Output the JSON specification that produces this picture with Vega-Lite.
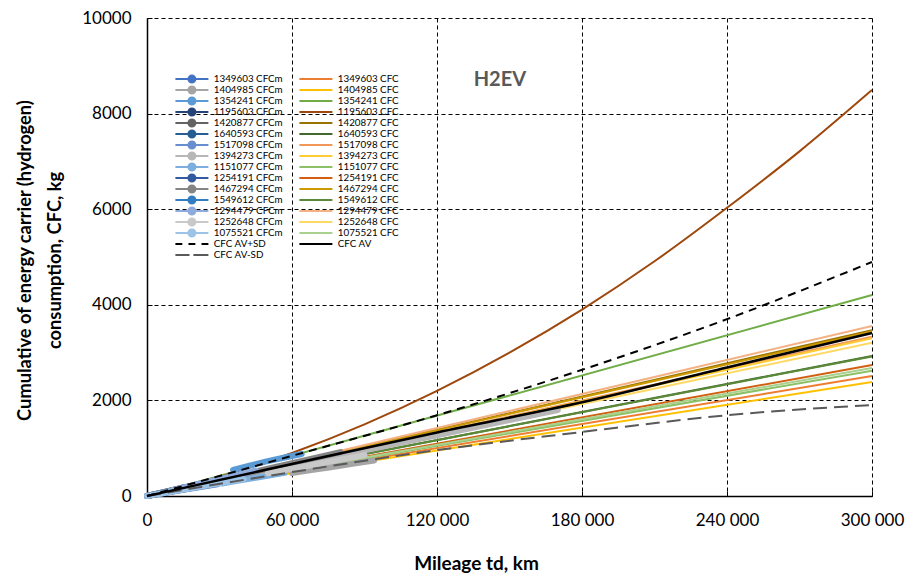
{
  "$schema": "https://vega.github.io/schema/vega-lite/v6.json",
  "width": 725,
  "height": 478,
  "autosize": {"type": "none"},
  "padding": {"left": 147, "top": 18, "right": 37, "bottom": 83},
  "background": "white",
  "config": {"view": {"stroke": null}, "font": "Lato"},
  "datasets": {
    "series": [
      {"s": "1349603 CFCm", "x": 0, "y": 0}, {"s": "1349603 CFCm", "x": 8000, "y": 70}, {"s": "1349603 CFCm", "x": 15000, "y": 128}, {"s": "1349603 CFCm", "x": 22000, "y": 185}, {"s": "1349603 CFCm", "x": 29000, "y": 243},
      {"s": "1404985 CFCm", "x": 60000, "y": 478}, {"s": "1404985 CFCm", "x": 68000, "y": 541}, {"s": "1404985 CFCm", "x": 76000, "y": 603}, {"s": "1404985 CFCm", "x": 85000, "y": 672}, {"s": "1404985 CFCm", "x": 94000, "y": 742},
      {"s": "1354241 CFCm", "x": 35600, "y": 544}, {"s": "1354241 CFCm", "x": 42000, "y": 630}, {"s": "1354241 CFCm", "x": 49000, "y": 718}, {"s": "1354241 CFCm", "x": 56000, "y": 795}, {"s": "1354241 CFCm", "x": 64000, "y": 879},
      {"s": "1195603 CFCm", "x": 0, "y": 0}, {"s": "1195603 CFCm", "x": 5000, "y": 58}, {"s": "1195603 CFCm", "x": 10000, "y": 117}, {"s": "1195603 CFCm", "x": 15000, "y": 178},
      {"s": "1420877 CFCm", "x": 0, "y": 0}, {"s": "1420877 CFCm", "x": 10000, "y": 116}, {"s": "1420877 CFCm", "x": 20000, "y": 230}, {"s": "1420877 CFCm", "x": 30000, "y": 345}, {"s": "1420877 CFCm", "x": 40000, "y": 460},
      {"s": "1640593 CFCm", "x": 0, "y": 0}, {"s": "1640593 CFCm", "x": 9000, "y": 88}, {"s": "1640593 CFCm", "x": 18000, "y": 176}, {"s": "1640593 CFCm", "x": 27000, "y": 262}, {"s": "1640593 CFCm", "x": 35000, "y": 342},
      {"s": "1517098 CFCm", "x": 20000, "y": 222}, {"s": "1517098 CFCm", "x": 28000, "y": 311}, {"s": "1517098 CFCm", "x": 37000, "y": 410}, {"s": "1517098 CFCm", "x": 46000, "y": 511}, {"s": "1517098 CFCm", "x": 55000, "y": 610},
      {"s": "1394273 CFCm", "x": 0, "y": 0}, {"s": "1394273 CFCm", "x": 30000, "y": 318}, {"s": "1394273 CFCm", "x": 60000, "y": 640}, {"s": "1394273 CFCm", "x": 90000, "y": 955}, {"s": "1394273 CFCm", "x": 120000, "y": 1272}, {"s": "1394273 CFCm", "x": 150000, "y": 1590}, {"s": "1394273 CFCm", "x": 170000, "y": 1800},
      {"s": "1151077 CFCm", "x": 31000, "y": 262}, {"s": "1151077 CFCm", "x": 38000, "y": 322}, {"s": "1151077 CFCm", "x": 45000, "y": 382}, {"s": "1151077 CFCm", "x": 51000, "y": 432}, {"s": "1151077 CFCm", "x": 57000, "y": 484},
      {"s": "1254191 CFCm", "x": 0, "y": 0}, {"s": "1254191 CFCm", "x": 8000, "y": 73}, {"s": "1254191 CFCm", "x": 16000, "y": 146}, {"s": "1254191 CFCm", "x": 25000, "y": 228},
      {"s": "1467294 CFCm", "x": 40000, "y": 459}, {"s": "1467294 CFCm", "x": 50000, "y": 573}, {"s": "1467294 CFCm", "x": 60000, "y": 688}, {"s": "1467294 CFCm", "x": 70000, "y": 802}, {"s": "1467294 CFCm", "x": 80000, "y": 918},
      {"s": "1549612 CFCm", "x": 5000, "y": 49}, {"s": "1549612 CFCm", "x": 13000, "y": 126}, {"s": "1549612 CFCm", "x": 21000, "y": 204}, {"s": "1549612 CFCm", "x": 28000, "y": 272}, {"s": "1549612 CFCm", "x": 35000, "y": 341},
      {"s": "1294479 CFCm", "x": 10000, "y": 118}, {"s": "1294479 CFCm", "x": 19000, "y": 225}, {"s": "1294479 CFCm", "x": 28000, "y": 332}, {"s": "1294479 CFCm", "x": 37000, "y": 438}, {"s": "1294479 CFCm", "x": 45000, "y": 533},
      {"s": "1252648 CFCm", "x": 50000, "y": 475}, {"s": "1252648 CFCm", "x": 60000, "y": 570}, {"s": "1252648 CFCm", "x": 70000, "y": 665}, {"s": "1252648 CFCm", "x": 80000, "y": 760}, {"s": "1252648 CFCm", "x": 90000, "y": 855},
      {"s": "1075521 CFCm", "x": 0, "y": 0}, {"s": "1075521 CFCm", "x": 10000, "y": 89}, {"s": "1075521 CFCm", "x": 20000, "y": 178}, {"s": "1075521 CFCm", "x": 30000, "y": 267}, {"s": "1075521 CFCm", "x": 40000, "y": 356},
      {"s": "1349603 CFC", "x": 0, "y": 0}, {"s": "1349603 CFC", "x": 300000, "y": 2510},
      {"s": "1404985 CFC", "x": 0, "y": 0}, {"s": "1404985 CFC", "x": 300000, "y": 2385},
      {"s": "1354241 CFC", "x": 0, "y": 0}, {"s": "1354241 CFC", "x": 300000, "y": 4205},
      {"s": "1195603 CFC", "x": 0, "y": 0}, {"s": "1195603 CFC", "x": 30000, "y": 400}, {"s": "1195603 CFC", "x": 60000, "y": 900}, {"s": "1195603 CFC", "x": 90000, "y": 1500}, {"s": "1195603 CFC", "x": 120000, "y": 2200}, {"s": "1195603 CFC", "x": 150000, "y": 3000}, {"s": "1195603 CFC", "x": 180000, "y": 3900}, {"s": "1195603 CFC", "x": 210000, "y": 4910}, {"s": "1195603 CFC", "x": 240000, "y": 6030}, {"s": "1195603 CFC", "x": 270000, "y": 7210}, {"s": "1195603 CFC", "x": 300000, "y": 8494},
      {"s": "1420877 CFC", "x": 0, "y": 0}, {"s": "1420877 CFC", "x": 300000, "y": 3470},
      {"s": "1640593 CFC", "x": 0, "y": 0}, {"s": "1640593 CFC", "x": 300000, "y": 2929},
      {"s": "1517098 CFC", "x": 0, "y": 0}, {"s": "1517098 CFC", "x": 300000, "y": 3330},
      {"s": "1394273 CFC", "x": 0, "y": 0}, {"s": "1394273 CFC", "x": 300000, "y": 3300},
      {"s": "1151077 CFC", "x": 0, "y": 0}, {"s": "1151077 CFC", "x": 300000, "y": 2621},
      {"s": "1254191 CFC", "x": 0, "y": 0}, {"s": "1254191 CFC", "x": 300000, "y": 2740},
      {"s": "1467294 CFC", "x": 0, "y": 0}, {"s": "1467294 CFC", "x": 300000, "y": 3440},
      {"s": "1549612 CFC", "x": 0, "y": 0}, {"s": "1549612 CFC", "x": 300000, "y": 2920},
      {"s": "1294479 CFC", "x": 0, "y": 0}, {"s": "1294479 CFC", "x": 300000, "y": 3556},
      {"s": "1252648 CFC", "x": 0, "y": 0}, {"s": "1252648 CFC", "x": 300000, "y": 3208},
      {"s": "1075521 CFC", "x": 0, "y": 0}, {"s": "1075521 CFC", "x": 300000, "y": 2677},
      {"s": "CFC AV+SD", "x": 0, "y": 0}, {"s": "CFC AV+SD", "x": 60000, "y": 840}, {"s": "CFC AV+SD", "x": 120000, "y": 1690}, {"s": "CFC AV+SD", "x": 180000, "y": 2640}, {"s": "CFC AV+SD", "x": 240000, "y": 3700}, {"s": "CFC AV+SD", "x": 300000, "y": 4895},
      {"s": "CFC AV-SD", "x": 0, "y": 0}, {"s": "CFC AV-SD", "x": 60000, "y": 500}, {"s": "CFC AV-SD", "x": 120000, "y": 960}, {"s": "CFC AV-SD", "x": 180000, "y": 1340}, {"s": "CFC AV-SD", "x": 240000, "y": 1690}, {"s": "CFC AV-SD", "x": 300000, "y": 1904},
      {"s": "CFC AV", "x": 0, "y": 0}, {"s": "CFC AV", "x": 60000, "y": 670}, {"s": "CFC AV", "x": 120000, "y": 1330}, {"s": "CFC AV", "x": 180000, "y": 1960}, {"s": "CFC AV", "x": 240000, "y": 2690}, {"s": "CFC AV", "x": 300000, "y": 3410}
    ],
    "notes": [{"x": 146000, "y": 8700, "t": "H2EV"}]
  },
  "encoding": {
    "x": {
      "field": "x", "type": "quantitative",
      "scale": {"domain": [0, 300000], "nice": false},
      "axis": {
        "values": [0, 60000, 120000, 180000, 240000, 300000],
        "labelExpr": "replace(format(datum.value, ','), ',', ' ')",
        "labelFont": "Lato", "labelFontSize": 17, "labelColor": "#000", "labelPadding": 21, "labelFlush": false,
        "ticks": true, "tickSize": -5, "tickColor": "#000",
        "domainColor": "#000", "domainWidth": 1.5,
        "grid": true, "gridColor": "#000", "gridDash": [4, 3], "gridWidth": 1,
        "title": "Mileage td, km", "titleFont": "Lato", "titleFontSize": 19, "titleFontWeight": "bold", "titleColor": "#000",
        "titleX": 329, "titleY": 67, "titleBaseline": "middle", "titleAlign": "center"
      }
    },
    "y": {
      "field": "y", "type": "quantitative",
      "scale": {"domain": [0, 10000], "nice": false},
      "axis": {
        "values": [0, 2000, 4000, 6000, 8000, 10000], "format": "d",
        "labelFont": "Lato", "labelFontSize": 17, "labelColor": "#000", "labelPadding": 21,
        "ticks": true, "tickSize": -5, "tickColor": "#000",
        "domainColor": "#000", "domainWidth": 1.5,
        "grid": true, "gridColor": "#000", "gridDash": [4, 3], "gridWidth": 1,
        "title": ["Cumulative of energy carrier (hydrogen)", "consumption, CFC, kg"],
        "titleFont": "Lato", "titleFontSize": 18.3, "titleFontWeight": "bold", "titleColor": "#000", "titleLineHeight": 30,
        "titleAngle": -90, "titleX": -122, "titleY": 242, "titleBaseline": "middle", "titleAlign": "center"
      }
    },
    "color": {
      "field": "s", "type": "nominal",
      "scale": {
        "domain": [
          "1349603 CFCm", "1404985 CFCm", "1354241 CFCm", "1195603 CFCm", "1420877 CFCm", "1640593 CFCm",
          "1517098 CFCm", "1394273 CFCm", "1151077 CFCm", "1254191 CFCm", "1467294 CFCm", "1549612 CFCm",
          "1294479 CFCm", "1252648 CFCm", "1075521 CFCm", "CFC AV+SD", "CFC AV-SD",
          "1349603 CFC", "1404985 CFC", "1354241 CFC", "1195603 CFC", "1420877 CFC", "1640593 CFC",
          "1517098 CFC", "1394273 CFC", "1151077 CFC", "1254191 CFC", "1467294 CFC", "1549612 CFC",
          "1294479 CFC", "1252648 CFC", "1075521 CFC", "CFC AV"
        ],
        "range": [
          "#4472C4", "#A5A5A5", "#5B9BD5", "#264478", "#636363", "#255E91",
          "#698ED0", "#B7B7B7", "#7CAFDD", "#335AA1", "#848484", "#327DC2",
          "#8FAADC", "#C9C9C9", "#9DC3E6", "#000000", "#595959",
          "#ED7D31", "#FFC000", "#70AD47", "#9E480E", "#997300", "#43682B",
          "#F1975A", "#FFCD33", "#8CC168", "#D26012", "#CC9A00", "#5A8A39",
          "#F4B183", "#FFD966", "#A9D18E", "#000000"
        ]
      },
      "legend": {
        "orient": "none", "legendX": 26, "legendY": 55.6, "title": null, "columns": 2, "padding": 0,
        "rowPadding": 0, "columnPadding": 14, "clipHeight": 10.8, "labelFont": "Lato", "labelFontSize": 9.8, "labelColor": "#000",
        "symbolSize": 36, "symbolOffset": 14, "labelOffset": 17, "symbolStrokeWidth": 2, "symbolLimit": 0,
        "encode": {
          "symbols": {
            "update": {
              "shape": {"signal": "indexof(datum.value,'CFCm')>=0 ? 'M-5.5,0H5.5M1.17,0A1.17,1.17,0,1,1,-1.17,0A1.17,1.17,0,1,1,1.17,0Z' : datum.value==='CFC AV+SD' ? 'M-5.5,0H-3.2M-1.15,0H1.15M3.2,0H5.5' : datum.value==='CFC AV-SD' ? 'M-5.5,0H-0.8M0.5,0H5.5' : 'M-5.5,0H5.5'"},
              "fill": {"scale": "color", "field": "value"},
              "strokeWidth": {"value": 2}
            }
          }
        }
      }
    }
  },
  "layer": [
    {
      "data": {"name": "series"},
      "transform": [{"filter": "indexof(datum.s,'CFCm')<0 && indexof(datum.s,'AV')<0"}],
      "mark": {"type": "line", "strokeWidth": 2, "interpolate": "monotone"}
    },
    {
      "data": {"name": "series"},
      "transform": [{"filter": "indexof(datum.s,'CFCm')>=0"}],
      "mark": {"type": "line", "strokeWidth": 6, "strokeCap": "round"}
    },
    {
      "data": {"name": "series"},
      "transform": [{"filter": "datum.s==='CFC AV+SD'"}],
      "mark": {"type": "line", "strokeWidth": 2, "strokeDash": [8, 6], "interpolate": "monotone"}
    },
    {
      "data": {"name": "series"},
      "transform": [{"filter": "datum.s==='CFC AV-SD'"}],
      "mark": {"type": "line", "strokeWidth": 2, "strokeDash": [14, 7], "interpolate": "monotone"}
    },
    {
      "data": {"name": "series"},
      "transform": [{"filter": "datum.s==='CFC AV'"}],
      "mark": {"type": "line", "strokeWidth": 2.5, "interpolate": "monotone"}
    },
    {
      "data": {"name": "notes"},
      "mark": {"type": "text", "font": "Lato", "fontSize": 20, "fontWeight": "bold", "align": "center", "baseline": "middle"},
      "encoding": {"text": {"field": "t"}, "color": {"value": "#595959"}}
    }
  ]
}
